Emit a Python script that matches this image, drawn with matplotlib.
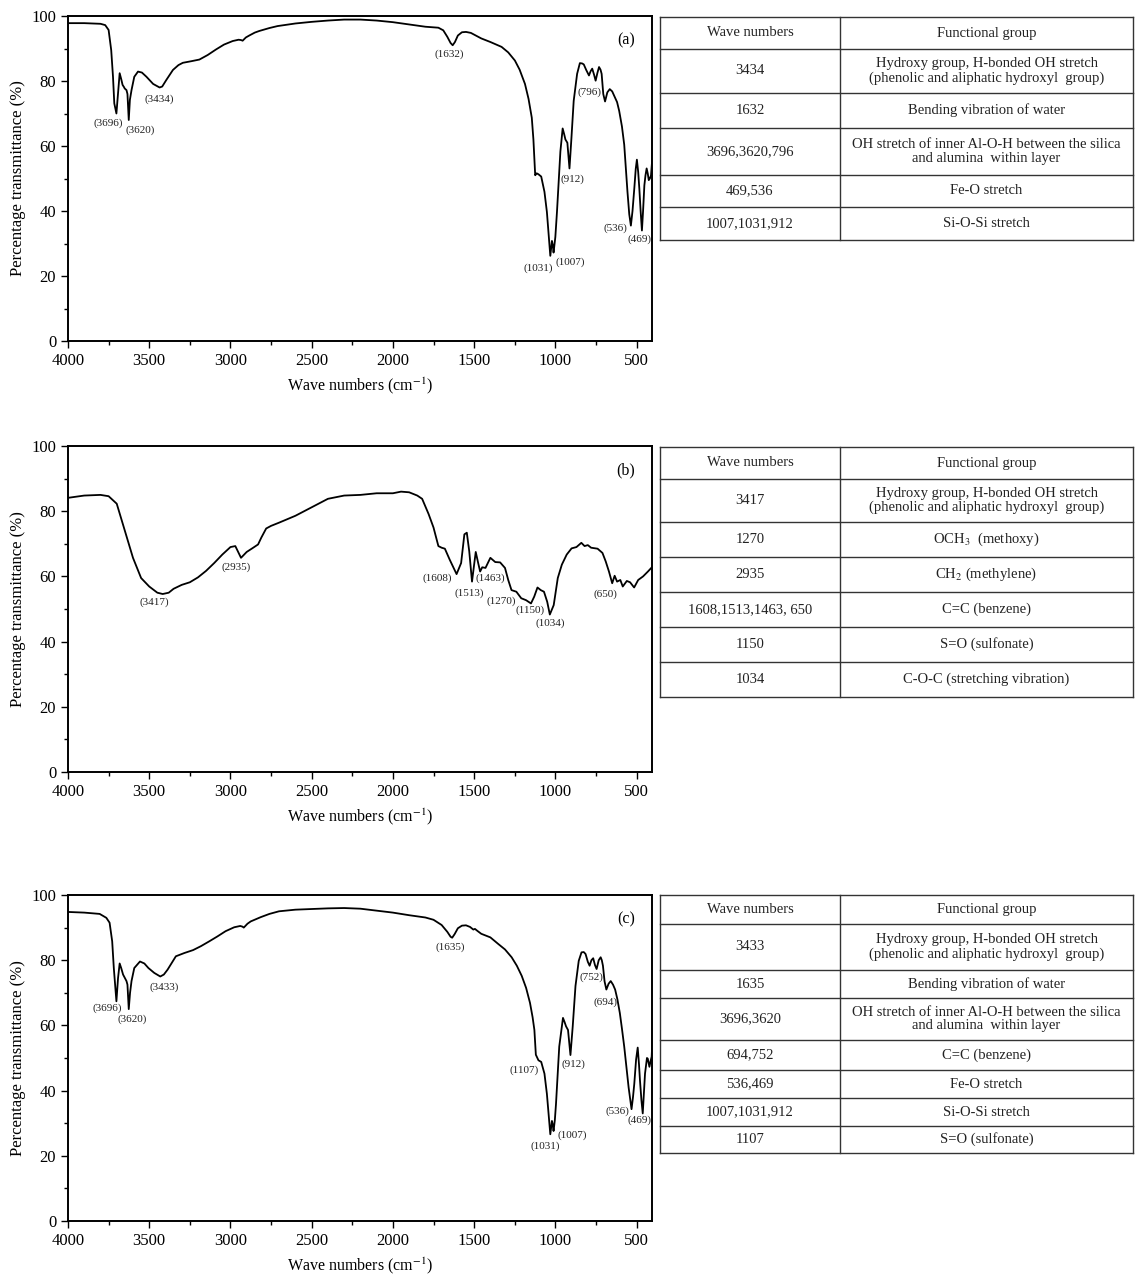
import matplotlib
matplotlib.use("Agg")
import matplotlib.pyplot as plt
from matplotlib.ticker import MultipleLocator

plt.rcParams["font.family"] = ["Liberation Serif", "DejaVu Serif"]
plt.rcParams["mathtext.fontset"] = "stix"

# ---- spectrum (a) ----
a_wn = [4000, 3900, 3800, 3771, 3750, 3734, 3723, 3715, 3702, 3692, 3682, 3672, 3664, 3655,
        3651, 3640, 3634, 3626, 3619, 3609, 3592, 3569, 3545, 3517, 3476, 3436, 3420, 3395,
        3354, 3320, 3293, 3240, 3191, 3140, 3089, 3040, 2986, 2950, 2935, 2925, 2905, 2884,
        2850, 2822, 2760, 2710, 2600, 2500, 2400, 2300, 2200, 2100, 2000, 1900, 1800, 1750,
        1720, 1690, 1665, 1645, 1632, 1618, 1600, 1575, 1550, 1520, 1490, 1456, 1400, 1331,
        1290, 1249, 1220, 1187, 1165, 1145, 1135, 1128, 1124, 1115, 1104, 1087, 1067, 1052,
        1040, 1031, 1021, 1016, 1011, 1000, 990, 969, 955, 945, 938, 926, 913, 901, 887, 866,
        849, 835, 825, 810, 793, 783, 773, 762, 752, 741, 731, 722, 715, 705, 694, 680, 665,
        650, 638, 620, 607, 590, 576, 556, 545, 535, 525, 514, 505, 498, 490, 483, 475, 467,
        460, 452, 445, 438, 431, 425, 418, 411, 405, 400]
a_t = [97.8, 97.8, 97.6, 97.2, 95.7, 89.5, 81.3, 73.1, 70.0, 76.2, 82.4, 80.5, 78.8, 78.1,
       77.7, 77.2, 76.0, 68.0, 74.2, 77.2, 81.3, 82.9, 82.6, 81.3, 79.1, 78.0, 78.3, 80.3,
       83.4, 84.9, 85.6, 86.1, 86.6, 88.0, 89.7, 91.2, 92.3, 92.7, 92.6, 92.4, 93.4, 94.0,
       94.9, 95.4, 96.3, 96.9, 97.7, 98.2, 98.6, 98.9, 98.9, 98.6, 98.1, 97.4, 96.7, 96.5,
       96.4, 95.6, 93.6, 91.7, 91.0, 92.0, 94.0, 95.0, 95.1, 94.8, 94.0, 93.1, 92.0, 90.5,
       88.8, 86.3, 83.5, 79.1, 74.5, 68.7, 62.0, 55.0, 51.0, 51.6, 51.3, 50.6, 45.9, 39.7,
       32.0, 26.2, 30.8, 29.5, 27.2, 32.0, 39.7, 58.3, 65.4, 63.5, 62.0, 61.0, 53.1, 62.4,
       73.9, 82.2, 85.5, 85.4, 85.1, 83.4, 81.7, 83.0, 83.8, 82.0, 80.1, 82.5, 84.3, 83.5,
       82.2, 76.0, 73.7, 76.5, 77.5, 76.8, 75.5, 73.5, 70.8, 66.0, 60.4, 45.9, 39.0, 35.5,
       40.0, 46.9, 53.0, 55.8, 52.0, 46.9, 40.0, 34.0, 40.0, 47.9, 51.0, 53.1, 51.5, 49.5,
       50.0, 51.0, 55.0, 60.0]
a_labels = ["(3696)", "(3620)", "(3434)", "(1632)", "(796)", "(912)", "(1031)", "(1007)",
            "(536)", "(469)"]
a_label_x = [3752, 3558, 3436, 1651, 789, 893, 1108, 907, 632, 483]
a_label_y = [67.1, 65.0, 74.4, 88.2, 76.5, 49.7, 22.5, 24.2, 34.7, 31.2]

# ---- spectrum (b) ----
b_wn = [4000, 3900, 3800, 3750, 3700, 3650, 3600, 3550, 3500, 3450, 3417, 3380, 3350, 3300,
        3250, 3200, 3150, 3100, 3050, 3000, 2970, 2935, 2900, 2860, 2830, 2810, 2780, 2750,
        2700, 2600, 2500, 2400, 2300, 2200, 2100, 2000, 1950, 1900, 1850, 1820, 1780, 1750,
        1720, 1700, 1680, 1650, 1608, 1580, 1560, 1545, 1530, 1513, 1500, 1490, 1475, 1463,
        1450, 1430, 1400, 1370, 1340, 1310, 1290, 1270, 1240, 1210, 1180, 1150, 1130, 1110,
        1090, 1070, 1050, 1034, 1010, 985, 960, 930, 900, 870, 840, 820, 800, 780, 740, 710,
        690, 670, 650, 635, 620, 600, 585, 560, 540, 515, 490, 460, 430, 400]
b_t = [84.1, 84.8, 85.0, 84.6, 82.3, 74.0, 65.7, 59.5, 56.9, 55.0, 54.6, 55.0, 56.2, 57.4,
       58.2, 59.7, 61.7, 64.1, 66.7, 69.0, 69.3, 65.7, 67.5, 68.8, 69.8, 71.9, 74.7, 75.5,
       76.5, 78.6, 81.2, 83.8, 84.8, 85.0, 85.5, 85.5, 86.0, 85.8, 84.8, 83.8, 79.1, 75.0,
       69.3, 68.8, 68.5, 65.1, 60.7, 64.1, 72.9, 73.4, 67.7, 58.4, 63.6, 67.5, 64.1, 61.5,
       62.8, 62.6, 65.7, 64.4, 64.3, 62.6, 58.9, 55.8, 55.3, 53.3, 52.7, 51.7, 53.8, 56.6,
       55.8, 55.3, 52.2, 48.3, 51.2, 59.5, 63.6, 66.7, 68.6, 69.0, 70.3, 69.3, 69.6, 68.8,
       68.5, 67.2, 64.6, 61.5, 57.9, 60.2, 58.4, 58.9, 56.9, 58.6, 58.2, 56.6, 58.9, 60.0,
       61.5, 63.1]
b_labels = ["(3417)", "(2935)", "(1608)", "(1513)", "(1463)", "(1270)", "(1150)", "(1034)",
            "(650)"]
b_label_x = [3467, 2965, 1729, 1530, 1398, 1336, 1155, 1031, 689]
b_label_y = [52.0, 62.9, 59.5, 54.8, 59.3, 52.4, 49.6, 45.5, 54.6]

# ---- spectrum (c) ----
c_wn = [4000, 3900, 3805, 3764, 3744, 3728, 3718, 3702, 3692, 3682, 3672, 3661, 3647, 3640,
        3634, 3626, 3618, 3609, 3592, 3557, 3530, 3505, 3469, 3432, 3410, 3387, 3336, 3284,
        3230, 3182, 3130, 3080, 3030, 2977, 2940, 2926, 2918, 2895, 2875, 2814, 2760, 2701,
        2600, 2500, 2400, 2300, 2200, 2100, 2000, 1900, 1800, 1750, 1700, 1665, 1645, 1635,
        1620, 1600, 1575, 1550, 1525, 1505, 1495, 1480, 1456, 1400, 1352, 1310, 1269, 1237,
        1207, 1180, 1156, 1140, 1129, 1120, 1104, 1087, 1067, 1052, 1040, 1031, 1021, 1016,
        1011, 1003, 996, 976, 953, 943, 934, 922, 907, 893, 876, 856, 839, 825, 814, 800, 789,
        778, 767, 756, 746, 733, 721, 714, 707, 697, 686, 672, 659, 645, 632, 618, 603, 590,
        576, 562, 549, 531, 522, 514, 503, 493, 485, 479, 470, 462, 455, 448, 440, 436, 431,
        421, 414, 407, 403, 400]
c_t = [94.8, 94.6, 94.2, 93.0, 91.5, 85.8, 77.6, 67.4, 74.5, 79.0, 77.5, 75.6, 74.3, 73.6,
       72.5, 65.0, 70.0, 73.6, 77.6, 79.6, 79.0, 77.6, 76.1, 75.0, 75.6, 77.1, 81.2, 82.2,
       83.1, 84.3, 85.8, 87.3, 88.9, 90.1, 90.5, 90.3, 90.0, 91.2, 91.9, 93.2, 94.2, 95.0,
       95.5, 95.7, 95.9, 96.0, 95.8, 95.2, 94.6, 93.8, 93.1, 92.4, 90.8, 88.7, 87.2, 86.9,
       88.0, 89.8, 90.6, 90.7, 90.2, 89.4, 89.6, 89.0, 88.1, 87.0, 85.0, 83.3, 80.9, 78.3,
       75.2, 71.5, 66.9, 62.5, 58.6, 51.0, 49.3, 48.8, 45.2, 39.0, 32.0, 26.6, 30.7, 29.5,
       27.6, 31.0, 35.9, 53.5, 62.3, 61.0, 59.7, 58.6, 50.9, 59.7, 72.1, 79.8, 82.4, 82.5,
       81.9, 79.5, 78.3, 80.0, 80.6, 78.5, 77.3, 80.0, 80.9, 80.0, 78.3, 73.5, 71.0, 72.8,
       73.6, 72.5, 71.0, 68.0, 63.8, 59.0, 53.5, 47.0, 41.0, 34.3, 38.0, 42.1, 49.5, 53.2,
       48.0, 43.1, 37.0, 33.0, 39.0, 45.2, 48.5, 50.0, 49.8, 47.3, 49.0, 50.4, 55.0, 61.0]
c_labels = ["(3696)", "(3620)", "(3433)", "(1635)", "(752)", "(694)", "(1107)", "(912)",
            "(1031)", "(1007)", "(536)", "(469)"]
c_label_x = [3757, 3602, 3410, 1646, 779, 690, 1191, 887, 1062, 893, 618, 483]
c_label_y = [65.4, 61.9, 71.8, 84.0, 74.7, 67.1, 46.2, 48.1, 23.0, 26.4, 33.6, 30.9]

# ---- tables ----
table_header = ["Wave numbers", "Functional group"]
a_wave = ["3434", "1632", "3696,3620,796", "469,536", "1007,1031,912"]
a_group = ["Hydroxy group, H-bonded OH stretch\n(phenolic and aliphatic hydroxyl  group)",
           "Bending vibration of water",
           "OH stretch of inner Al-O-H between the silica\nand alumina  within layer",
           "Fe-O stretch", "Si-O-Si stretch"]
b_wave = ["3417", "1270", "2935", "1608,1513,1463, 650", "1150", "1034"]
b_group = ["Hydroxy group, H-bonded OH stretch\n(phenolic and aliphatic hydroxyl  group)",
           r"OCH$_3$  (methoxy)", r"CH$_2$ (methylene)", "C=C (benzene)",
           "S=O (sulfonate)", "C-O-C (stretching vibration)"]
c_wave = ["3433", "1635", "3696,3620", "694,752", "536,469", "1007,1031,912", "1107"]
c_group = ["Hydroxy group, H-bonded OH stretch\n(phenolic and aliphatic hydroxyl  group)",
           "Bending vibration of water",
           "OH stretch of inner Al-O-H between the silica\nand alumina  within layer",
           "C=C (benzene)", "Fe-O stretch", "Si-O-Si stretch", "S=O (sulfonate)"]

W, H = 1135, 1279
fig = plt.figure(figsize=(W / 100, H / 100), dpi=100)

panels = [
    (a_wn, a_t, a_labels, a_label_x, a_label_y, "(a)", 16, 341),
    (b_wn, b_t, b_labels, b_label_x, b_label_y, "(b)", 446, 772),
    (c_wn, c_t, c_labels, c_label_x, c_label_y, "(c)", 895, 1221),
]
x0, x1 = 68, 652
for wn, t, labs, lx, ly, tag, top, bot in panels:
    ax = fig.add_axes([x0 / W, 1 - bot / H, (x1 - x0) / W, (bot - top) / H])
    ax.plot(wn, t, color="black", lw=1.3)
    ax.set_xlim(4000, 405)
    ax.set_ylim(0, 100)
    ax.xaxis.set_major_locator(MultipleLocator(500))
    ax.xaxis.set_minor_locator(MultipleLocator(250))
    ax.yaxis.set_major_locator(MultipleLocator(20))
    ax.yaxis.set_minor_locator(MultipleLocator(10))
    ax.tick_params(which="both", direction="out", labelsize=12, width=1.0, top=False, right=False)
    ax.tick_params(which="major", length=5)
    ax.tick_params(which="minor", length=3)
    for s in ax.spines.values():
        s.set_linewidth(1.4)
    ax.set_xlabel("Wave numbers (cm$^{-1}$)", fontsize=11.5, labelpad=5)
    ax.set_ylabel("Percentage transmittance (%)", fontsize=12, labelpad=4)
    for s, x, y in zip(labs, lx, ly):
        ax.text(x, y, s, fontsize=8, ha="center", va="center", color="#222222")
    ax.text(0.955, 0.925, tag, transform=ax.transAxes, fontsize=11.5, ha="center", va="center")

# tables drawn in figure pixel coordinates
tax = fig.add_axes([0, 0, 1, 1])
tax.set_xlim(0, W)
tax.set_ylim(H, 0)
tax.axis("off")
tax.patch.set_visible(False)

tables = [
    (a_wave, a_group, [17, 49, 93, 128, 175, 207, 240]),
    (b_wave, b_group, [447, 479, 522, 557, 592, 627, 662, 697]),
    (c_wave, c_group, [895, 924, 970, 998, 1040, 1070, 1098, 1126, 1153]),
]
tl, tm, tr = 660, 840, 1133
for waves, groups, rows in tables:
    for y in rows:
        tax.plot([tl, tr], [y, y], color="#333333", lw=1.0)
    for x in (tl, tm, tr):
        tax.plot([x, x], [rows[0], rows[-1]], color="#333333", lw=1.0)
    cells = [table_header] + [[w, g] for w, g in zip(waves, groups)]
    for i, (w, g) in enumerate(cells):
        yc = (rows[i] + rows[i + 1]) / 2
        tax.text((tl + tm) / 2, yc, w, ha="center", va="center", fontsize=10.5,
                 color="#222222", linespacing=1.1)
        tax.text((tm + tr) / 2, yc, g, ha="center", va="center", fontsize=10.5,
                 color="#222222", linespacing=1.1)

fig.savefig("out.png", dpi=100)
